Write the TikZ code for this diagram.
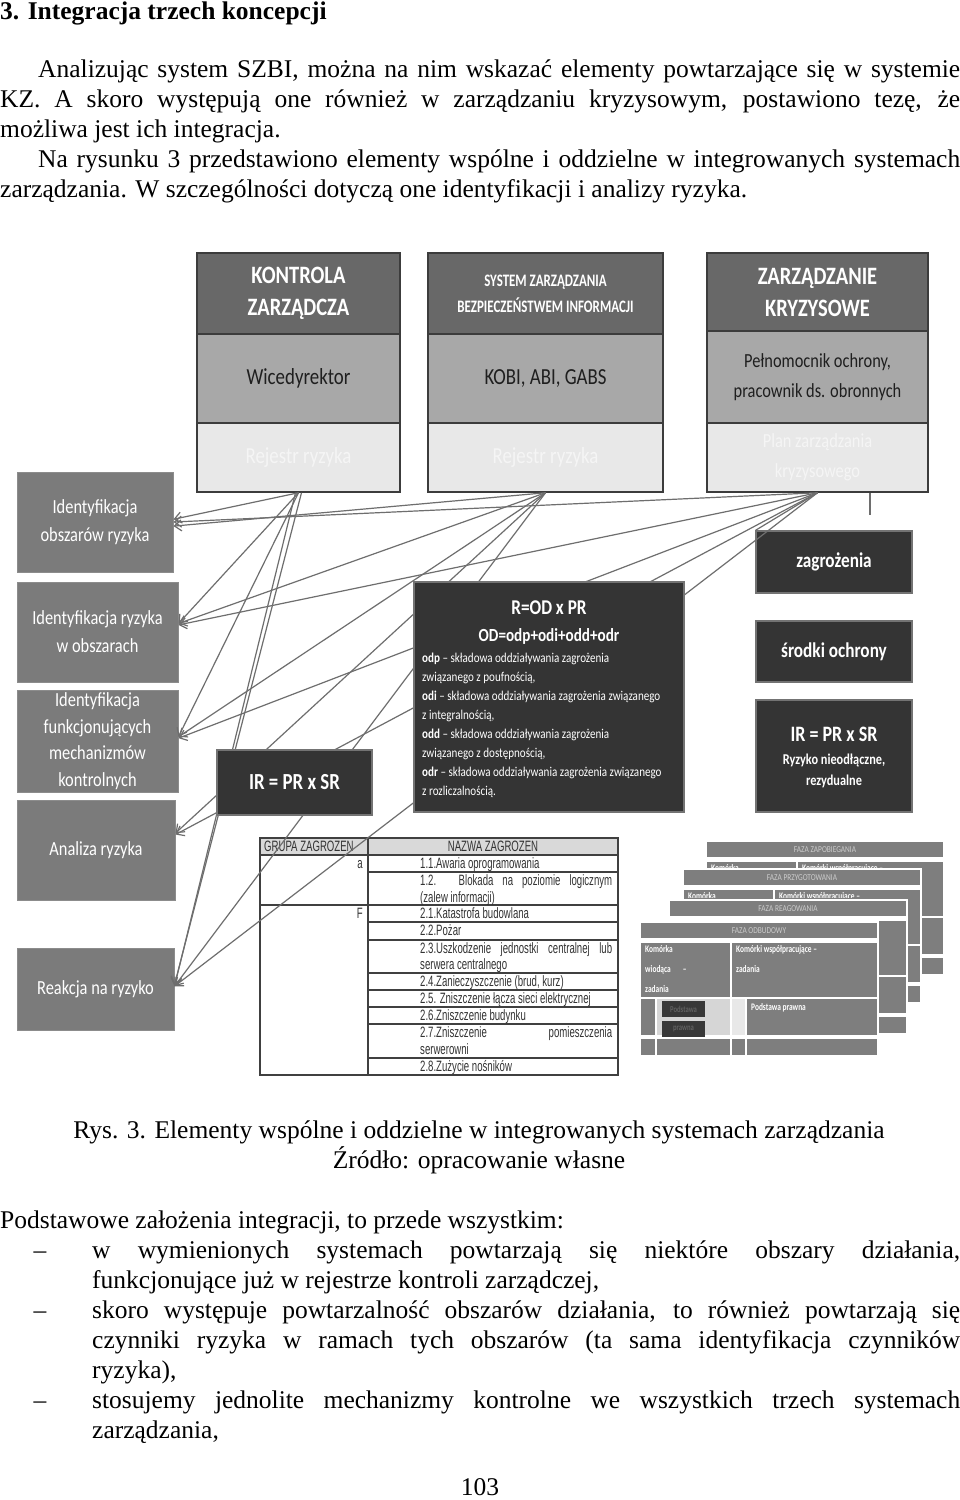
\documentclass[tikz,border=0pt]{standalone}
\usepackage{fontspec}
\setmainfont{Liberation Serif}
\newfontfamily\calfont[FakeStretch=0.82]{Carlito}
\newfontfamily\calnarrow[FakeStretch=0.74]{Carlito}
\newfontfamily\tabfont[FakeStretch=0.64]{Liberation Sans}
\usetikzlibrary{arrows.meta,calc}
\definecolor{hdr}{HTML}{686868}
\definecolor{midg}{HTML}{A8A8A8}
\definecolor{lowg}{HTML}{E8E8E8}
\definecolor{lbox}{HTML}{7B7B7B}
\definecolor{dbox}{HTML}{343434}
\definecolor{edgeg}{HTML}{3C3C3C}
\definecolor{conng}{HTML}{6E6E6E}
\definecolor{cardg}{HTML}{7E7E7E}
\newcommand\bodyfont{\fontsize{25.5}{30}\selectfont}
\tikzset{
  hdrbox/.style={draw=edgeg,line width=1.5pt,fill=hdr,text=white,inner sep=0pt,align=center},
  midbox/.style={draw=edgeg,line width=1.5pt,fill=midg,text=black!88,inner sep=0pt,align=center},
  lowbox/.style={draw=edgeg,line width=1.5pt,fill=lowg,text=white!96!black,inner sep=0pt,align=center},
  leftbox/.style={draw=black!45,line width=1pt,fill=lbox,text=white,inner sep=0pt,align=center,font=\calfont\fontsize{20}{28}\selectfont},
  darkbox/.style={draw=black!55,line width=1.2pt,fill=dbox,text=white,inner sep=0pt,align=center},
  conn/.style={draw=conng,line width=1.2pt},
  arr/.style={conn,-{Straight Barb[length=7pt,width=11pt]}},
  bodytext/.style={anchor=base west,inner sep=0pt,font=\bodyfont},
  tabtext/.style={inner sep=0pt,text=black!80,font=\tabfont\fontsize{15}{17}\selectfont},
  rtext/.style={anchor=base west,inner sep=0pt,text=white,font=\calfont\fontsize{13.5}{19}\selectfont},
  cardtext/.style={inner sep=0pt,text=white,align=left,font=\calnarrow\bfseries\fontsize{10}{20}\selectfont},
  cardhead/.style={inner sep=0pt,text=black!20,font=\calfont\fontsize{9}{10}\selectfont},
}
% card body shared by all four cards
\newcommand\cardbody[4]{%
  \fill[white] (#2-2,#3-2) rectangle (#2+238,#3+134);
  \fill[cardg] (#2,#3) rectangle (#2+236,#3+15);
  \node[cardhead] (#1h) at (#2+118,#3+7.5) {#4};
  \fill[cardg] (#2,#3+20) rectangle (#2+89,#3+74);
  \fill[cardg] (#2+91,#3+20) rectangle (#2+236,#3+74);
  \fill[cardg] (#2,#3+76) rectangle (#2+14,#3+112);
  \fill[black!16] (#2+16,#3+76) rectangle (#2+89,#3+112);
  \fill[black!9] (#2+91,#3+76) rectangle (#2+104,#3+112);
  \fill[cardg] (#2+106,#3+76) rectangle (#2+236,#3+112);
  \fill[cardg] (#2,#3+116) rectangle (#2+14,#3+132);
  \fill[cardg] (#2+16,#3+116) rectangle (#2+89,#3+132);
  \fill[cardg] (#2+91,#3+116) rectangle (#2+104,#3+132);
  \fill[cardg] (#2+106,#3+116) rectangle (#2+236,#3+132);
}
% back card: only the strip of the first row shows
\newcommand\backcard[4]{%
  \cardbody{#1}{#2}{#3}{#4}
  \begin{scope}
    \clip (#2,#3+20) rectangle (#2+236,#3+27);
    \node[cardtext,anchor=north west] (#1k) at (#2+4,#3+22) {Komórka};
    \node[cardtext,anchor=north west] (#1w) at (#2+95,#3+22) {Komórki współpracujące –};
  \end{scope}
}
% front card with all texts
\newcommand\frontcard[4]{%
  \cardbody{#1}{#2}{#3}{#4}
  \node[fill=black!78,minimum width=43,minimum height=16,inner sep=0pt,text=black!62,font=\calnarrow\bfseries\fontsize{9}{10}\selectfont] (#1pa) at (#2+42.5,#3+86) {Podstawa};
  \node[fill=black!78,minimum width=43,minimum height=16,inner sep=0pt,text=black!62,font=\calnarrow\bfseries\fontsize{9}{10}\selectfont] (#1pb) at (#2+42.5,#3+105.5) {prawna};
  \node[cardtext,anchor=north west] (#1k) at (#2+4,#3+22) {Komórka\\wiodąca\hspace{12pt}–\\zadania};
  \node[cardtext,anchor=north west] (#1w) at (#2+95,#3+22) {Komórki współpracujące –\\zadania};
  \node[cardtext,anchor=north west] (#1p) at (#2+110,#3+80) {Podstawa prawna};
}
\begin{document}
\begin{tikzpicture}[x=1pt,y=-1pt]
\useasboundingbox (0,0) rectangle (960,1500);
\fill[white] (0,0) rectangle (960,1500);

% ---------- page text ----------
\node[bodytext,font=\bodyfont\bfseries] (head) at (0,19) {3. Integracja trzech koncepcji};
\node[bodytext] (p1) at (38,77) {\makebox[922pt][s]{Analizując system SZBI, można na nim wskazać elementy powtarzające się w systemie}};
\node[bodytext] (p2) at (0,107) {\makebox[960pt][s]{KZ. A skoro występują one również w zarządzaniu kryzysowym, postawiono tezę, że}};
\node[bodytext] (p3) at (0,137) {możliwa jest ich integracja.};
\node[bodytext] (p4) at (38,167) {\makebox[922pt][s]{Na rysunku 3 przedstawiono elementy wspólne i oddzielne w integrowanych systemach}};
\node[bodytext] (p5) at (0,197) {zarządzania. W szczególności dotyczą one identyfikacji i analizy ryzyka.};

\node[anchor=base,inner sep=0pt,font=\bodyfont] (cap1) at (479,1138) {Rys. 3. Elementy wspólne i oddzielne w integrowanych systemach zarządzania};
\node[anchor=base,inner sep=0pt,font=\bodyfont] (cap2) at (479,1168) {Źródło: opracowanie własne};

\node[bodytext] (q0) at (0,1228) {Podstawowe założenia integracji, to przede wszystkim:};
\node[anchor=base,inner sep=0pt,font=\bodyfont] (d1) at (40,1258) {–};
\node[anchor=base,inner sep=0pt,font=\bodyfont] (d2) at (40,1318) {–};
\node[anchor=base,inner sep=0pt,font=\bodyfont] (d3) at (40,1408) {–};
\node[bodytext] (q1) at (92,1258) {\makebox[868pt][s]{w wymienionych systemach powtarzają się niektóre obszary działania,}};
\node[bodytext] (q2) at (92,1288) {funkcjonujące już w rejestrze kontroli zarządczej,};
\node[bodytext] (q3) at (92,1318) {\makebox[868pt][s]{skoro występuje powtarzalność obszarów działania, to również powtarzają się}};
\node[bodytext] (q4) at (92,1348) {\makebox[868pt][s]{czynniki ryzyka w ramach tych obszarów (ta sama identyfikacja czynników}};
\node[bodytext] (q5) at (92,1378) {ryzyka),};
\node[bodytext] (q6) at (92,1408) {\makebox[868pt][s]{stosujemy jednolite mechanizmy kontrolne we wszystkich trzech systemach}};
\node[bodytext] (q7) at (92,1438) {zarządzania,};
\node[anchor=base,inner sep=0pt,font=\bodyfont] (pg) at (480,1495) {103};

% ---------- table ----------
\fill[black!15] (260,838) rectangle (618,855);
\draw[line width=1.6pt,black!75] (260,838) rectangle (618,1075);
\draw[line width=1.4pt,black!75] (368,838) -- (368,1075);
\draw[line width=1.4pt,black!75] (260,855) -- (618,855);
\draw[line width=1.4pt,black!75] (260,905) -- (618,905);
\foreach \yy in {872,922,940,973,990,1007,1024,1058}
  \draw[line width=1.4pt,black!75] (368,\yy) -- (618,\yy);
\node[tabtext,anchor=west] (tg) at (264,846.5) {GRUPA ZAGROZEN};
\node[tabtext] (tn) at (493,846.5) {NAZWA ZAGROZEN};
\node[tabtext,anchor=base east] (ta) at (363,868) {a};
\node[tabtext,anchor=base east] (tf) at (363,918) {F};
\node[tabtext,anchor=base west] (t11) at (420,868) {1.1.Awaria oprogramowania};
\node[tabtext,anchor=base west] (t12) at (420,885) {\makebox[192pt][s]{1.2. Blokada na poziomie logicznym}};
\node[tabtext,anchor=base west] (t12b) at (420,902) {(zalew informacji)};
\node[tabtext,anchor=base west] (t21) at (420,918) {2.1.Katastrofa budowlana};
\node[tabtext,anchor=base west] (t22) at (420,935) {2.2.Pożar};
\node[tabtext,anchor=base west] (t23) at (420,953) {\makebox[192pt][s]{2.3.Uszkodzenie jednostki centralnej lub}};
\node[tabtext,anchor=base west] (t23b) at (420,969) {serwera centralnego};
\node[tabtext,anchor=base west] (t24) at (420,986) {2.4.Zanieczyszczenie (brud, kurz)};
\node[tabtext,anchor=base west] (t25) at (420,1003) {2.5. Zniszczenie łącza sieci elektrycznej};
\node[tabtext,anchor=base west] (t26) at (420,1020) {2.6.Zniszczenie budynku};
\node[tabtext,anchor=base west] (t27) at (420,1037) {\makebox[192pt][s]{2.7.Zniszczenie pomieszczenia}};
\node[tabtext,anchor=base west] (t27b) at (420,1054) {serwerowni};
\node[tabtext,anchor=base west] (t28) at (420,1071) {2.8.Zużycie nośników};

% ---------- phase cards ----------
\backcard{c1}{707}{842}{FAZA ZAPOBIEGANIA}
\backcard{c2}{684}{870}{FAZA PRZYGOTOWANIA}
\cardbody{c3}{670}{901}{FAZA REAGOWANIA}
\frontcard{c4}{641}{923}{FAZA ODBUDOWY}

% ---------- boxes that connectors reach ----------
\path (298.5,457.5) node[lowbox,minimum width=203,minimum height=69,font=\calfont\fontsize{23}{28}\selectfont] (rej1) {Rejestr ryzyka};
\path (545.5,457.5) node[lowbox,minimum width=235,minimum height=69,font=\calfont\fontsize{23}{28}\selectfont] (rej2) {Rejestr ryzyka};
\path (817.5,457.5) node[lowbox,minimum width=221,minimum height=69,font=\calfont\fontsize{20}{30}\selectfont] (plan) {Plan zarządzania\\kryzysowego};
\path (95,522) node[leftbox,minimum width=156,minimum height=100] (idA) {Identyfikacja\\obszarów ryzyka};
\path (97.5,632) node[leftbox,minimum width=161,minimum height=100] (idB) {Identyfikacja ryzyka\\w obszarach};
\path (97.5,741) node[leftbox,minimum width=161,minimum height=102,font=\calfont\fontsize{20}{26.5}\selectfont] (idC) {Identyfikacja\\funkcjonujących\\mechanizmów\\kontrolnych};
\path (96,850) node[leftbox,minimum width=158,minimum height=100] (anal) {Analiza ryzyka};
\path (95.5,989) node[leftbox,minimum width=157,minimum height=82] (reak) {Reakcja na ryzyko};
\path (834,562) node[darkbox,minimum width=156,minimum height=62,font=\calfont\bfseries\fontsize{21}{25}\selectfont] (zagr) {zagrożenia};

% ---------- connectors ----------
\coordinate (tick) at (870,515);
\draw[conn] (plan.south -| tick) -- (tick);
\draw[arr] (rej1.south) -- (idA.2);
\draw[arr] (rej2.south) -- (idA.-3);
\draw[arr] (plan.south) -- (idA.east);
\draw[arr] (rej1.south) -- (idB.6);
\draw[arr] (rej2.south) -- (idB.6);
\draw[arr] (plan.south) -- (idB.5);
\draw[arr] (rej1.south) -- (idC.3);
\draw[arr] (rej2.south) -- (idC.3);
\draw[arr] (plan.south) -- (idC.2);
\draw[arr] (rej2.south) -- (anal.12);
\draw[arr] (plan.south) -- (anal.11);
\draw[arr] ($(rej1.south)+(-3,0)$) -- (reak.2);
\draw[arr] ($(rej1.south)+(3,0)$) -- (reak.3);
\draw[arr] (rej2.south) -- (reak.2);
\draw[arr] (plan.south) -- (reak.2);
\draw[conn] (plan.south) -- (zagr.north west);

% ---------- boxes on top ----------
\node[hdrbox,minimum width=203,minimum height=81,font=\calfont\bfseries\fontsize{25}{32}\selectfont] (h1) at (298.5,293.5) {KONTROLA\\ZARZĄDCZA};
\node[midbox,minimum width=203,minimum height=89,font=\calfont\fontsize{23}{28}\selectfont] (m1) at (298.5,378.5) {Wicedyrektor};
\node[hdrbox,minimum width=235,minimum height=81,font=\calnarrow\bfseries\fontsize{17.5}{26}\selectfont] (h2) at (545.5,293.5) {SYSTEM ZARZĄDZANIA\\BEZPIECZEŃSTWEM INFORMACJI};
\node[midbox,minimum width=235,minimum height=89,font=\calfont\fontsize{23}{28}\selectfont] (m2) at (545.5,378.5) {KOBI, ABI, GABS};
\node[hdrbox,minimum width=221,minimum height=78,font=\calfont\bfseries\fontsize{25}{32}\selectfont] (h3) at (817.5,292) {ZARZĄDZANIE\\KRYZYSOWE};
\node[midbox,minimum width=221,minimum height=92,font=\calfont\fontsize{20}{30}\selectfont] (m3) at (817.5,377) {Pełnomocnik ochrony,\\pracownik ds. obronnych};

\node[darkbox,minimum width=155,minimum height=65,font=\calfont\bfseries\fontsize{23}{28}\selectfont] (ir1) at (294.5,782.5) {IR = PR x SR};
\node[darkbox,minimum width=270,minimum height=230] (rbox) at (549,697) {};
\node[inner sep=0pt,text=white,font=\calfont\bfseries\fontsize{21}{25}\selectfont] (r1) at (549,608) {R=OD x PR};
\node[inner sep=0pt,text=white,font=\calfont\bfseries\fontsize{18.5}{22}\selectfont] (r2) at (549,636) {OD=odp+odi+odd+odr};
\node[rtext] (r3) at (422,662) {\textbf{odp} – składowa oddziaływania zagrożenia};
\node[rtext] (r4) at (422,681) {związanego z poufnością,};
\node[rtext] (r5) at (422,700) {\textbf{odi} – składowa oddziaływania zagrożenia związanego};
\node[rtext] (r6) at (422,719) {z integralnością,};
\node[rtext] (r7) at (422,738) {\textbf{odd} – składowa oddziaływania zagrożenia};
\node[rtext] (r8) at (422,757) {związanego z dostępnością,};
\node[rtext] (r9) at (422,776) {\textbf{odr} – składowa oddziaływania zagrożenia związanego};
\node[rtext] (r10) at (422,795) {z rozliczalnością.};

\node[darkbox,minimum width=156,minimum height=61,font=\calfont\bfseries\fontsize{21}{25}\selectfont] (srod) at (834,651.5) {środki ochrony};
\node[darkbox,minimum width=156,minimum height=112] (ir2) at (834,756) {};
\node[inner sep=0pt,text=white,font=\calfont\bfseries\fontsize{22}{26}\selectfont] (ir2a) at (834,734) {IR = PR x SR};
\node[inner sep=0pt,text=white,align=center,font=\calfont\bfseries\fontsize{15}{21}\selectfont] (ir2b) at (834,771) {Ryzyko nieodłączne,\\rezydualne};
\end{tikzpicture}
\end{document}
